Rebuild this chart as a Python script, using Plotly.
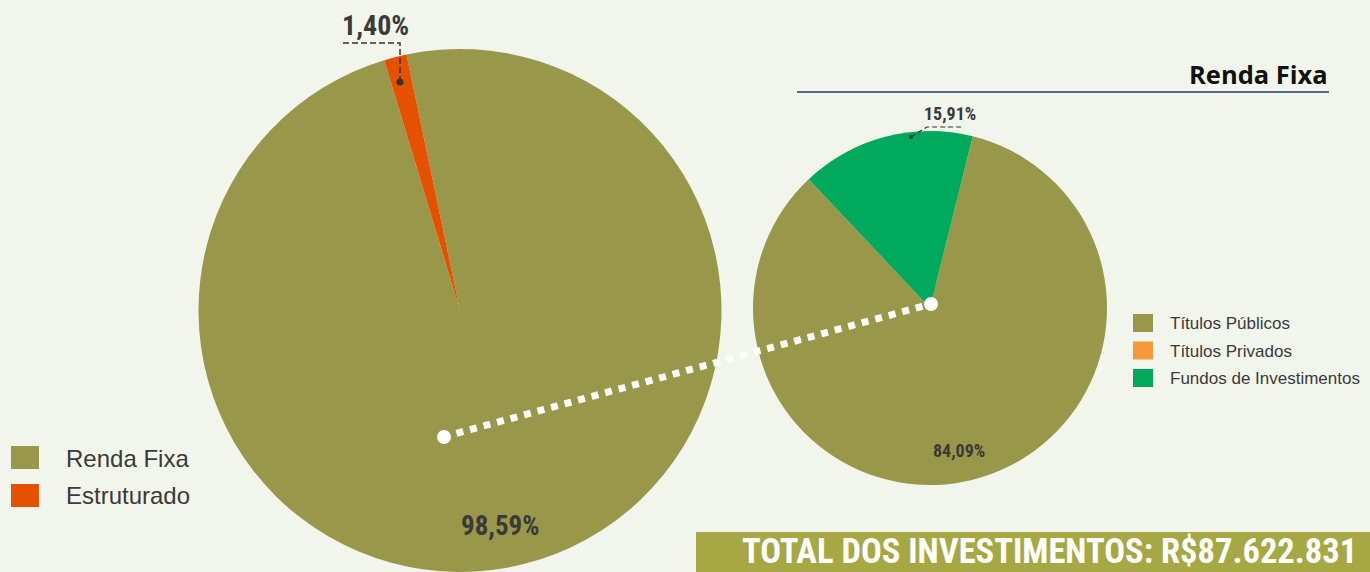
import plotly.graph_objects as go

W, H = 1370, 572

# main split
main_labels = ["Renda Fixa", "Estruturado"]
main_values = [98.59, 1.40]
main_colors = ["#99974A", "#E65100"]

# renda fixa breakdown
rf_labels = ["Títulos Públicos", "Títulos Privados", "Fundos de Investimentos"]
rf_values = [84.09, 0.0, 15.91]
rf_colors = ["#99974A", "#F7993B", "#00A95C"]

total_label = "TOTAL DOS INVESTIMENTOS: R$87.622.831"

BG = "#F2F5EB"
TEXT_DARK = "#3A3A3A"
NARROW = "Roboto Condensed, Noto Sans Condensed, DejaVu Sans Condensed, Liberation Sans Narrow, Arial Narrow, sans-serif"
REGULAR = "Liberation Sans, Arial, sans-serif"


def px(x):
    return x / W


def py(y):
    return 1 - y / H


def pct(v):
    return f"{v:.2f}%".replace(".", ",")


fig = go.Figure()

fig.add_trace(go.Pie(
    labels=main_labels, values=main_values,
    marker=dict(colors=main_colors, line=dict(width=0)),
    sort=False, direction="clockwise", rotation=-11.8,
    textinfo="none", hoverinfo="label+percent",
    domain=dict(x=[px(198), px(722)], y=[0, py(49)]),
))

fig.add_trace(go.Pie(
    labels=rf_labels, values=rf_values,
    marker=dict(colors=rf_colors, line=dict(width=0)),
    sort=False, direction="clockwise", rotation=14,
    textinfo="none", hoverinfo="label+percent",
    domain=dict(x=[px(753), px(1107)], y=[py(485), py(131)]),
))

shapes = []
annotations = []

# dotted connector between the two pies
shapes.append(dict(type="line", xref="paper", yref="paper",
                   x0=px(443), y0=py(437), x1=px(931), y1=py(304),
                   line=dict(color="white", width=7, dash="dot")))
for cx, cy in [(444, 437), (931, 304)]:
    shapes.append(dict(type="circle", xref="paper", yref="paper",
                       x0=px(cx - 7), x1=px(cx + 7), y0=py(cy - 7), y1=py(cy + 7),
                       fillcolor="white", line=dict(width=0)))

# leader for small slice of main pie
shapes.append(dict(type="path", xref="paper", yref="paper",
                   path=f"M {px(400)},{py(82)} L {px(400)},{py(43)} L {px(343)},{py(43)}",
                   line=dict(color="#333333", width=1.5, dash="6px,3px")))
shapes.append(dict(type="circle", xref="paper", yref="paper",
                   x0=px(396.5), x1=px(403.5), y0=py(78.5), y1=py(85.5),
                   fillcolor="#333333", line=dict(width=0)))

# leader for fundos slice
shapes.append(dict(type="path", xref="paper", yref="paper",
                   path=f"M {px(911)},{py(137)} L {px(927)},{py(127)} L {px(963)},{py(127)}",
                   line=dict(color="#333333", width=1.2, dash="5px,3px")))
shapes.append(dict(type="circle", xref="paper", yref="paper",
                   x0=px(909), x1=px(913), y0=py(135), y1=py(139),
                   fillcolor="#333333", line=dict(width=0)))

# percentage labels
label_specs = [
    (main_values[0], 500, 526, 27),
    (main_values[1], 375, 26, 28),
    (rf_values[2], 950, 114, 18),
    (rf_values[0], 959, 450, 18),
]
for v, x, y, size in label_specs:
    annotations.append(dict(text=f"<b>{pct(v)}</b>", x=px(x), y=py(y),
                            xref="paper", yref="paper", showarrow=False,
                            xanchor="center", yanchor="middle",
                            font=dict(family=NARROW, size=size, color=TEXT_DARK)))

# "Renda Fixa" header with rule
annotations.append(dict(text="<b>Renda Fixa</b>", x=px(1330), y=py(74),
                        xref="paper", yref="paper", showarrow=False,
                        xanchor="right", yanchor="middle",
                        font=dict(family="Open Sans, sans-serif", size=25.5, color="#111111")))
shapes.append(dict(type="line", xref="paper", yref="paper",
                   x0=px(797), x1=px(1329), y0=py(92), y1=py(92),
                   line=dict(color="#1F3B6B", width=1.5)))

# left legend
for i, (lab, col) in enumerate(zip(main_labels, main_colors)):
    top = 446 + i * 38
    shapes.append(dict(type="rect", xref="paper", yref="paper",
                       x0=px(11), x1=px(39), y0=py(top), y1=py(top + 23),
                       fillcolor=col, line=dict(width=0)))
    annotations.append(dict(text=lab, x=px(64), y=py(top + 12),
                            xref="paper", yref="paper", showarrow=False,
                            xanchor="left", yanchor="middle",
                            font=dict(family=REGULAR, size=24, color=TEXT_DARK)))

# right legend
for i, (lab, col) in enumerate(zip(rf_labels, rf_colors)):
    top = 314 + i * 27.5
    shapes.append(dict(type="rect", xref="paper", yref="paper",
                       x0=px(1133), x1=px(1153), y0=py(top), y1=py(top + 18),
                       fillcolor=col, line=dict(width=0)))
    annotations.append(dict(text=lab, x=px(1168), y=py(top + 9.5),
                            xref="paper", yref="paper", showarrow=False,
                            xanchor="left", yanchor="middle",
                            font=dict(family=REGULAR, size=17, color=TEXT_DARK)))

# total banner
shapes.append(dict(type="rect", xref="paper", yref="paper",
                   x0=px(696), x1=1, y0=0, y1=py(532),
                   fillcolor="#A6A843", line=dict(width=0)))
annotations.append(dict(text=f"<b>{total_label}</b>", x=px(1049), y=py(551),
                        xref="paper", yref="paper", showarrow=False,
                        xanchor="center", yanchor="middle", borderpad=0,
                        font=dict(family=NARROW, size=34.5, color="white")))

fig.update_layout(
    width=W, height=H,
    margin=dict(l=0, r=0, t=0, b=0),
    paper_bgcolor=BG, plot_bgcolor=BG,
    showlegend=False,
    shapes=shapes,
    annotations=annotations,
)

fig.write_html("out.html", config={"displayModeBar": False},
               post_script="document.body.style.margin='0';")
